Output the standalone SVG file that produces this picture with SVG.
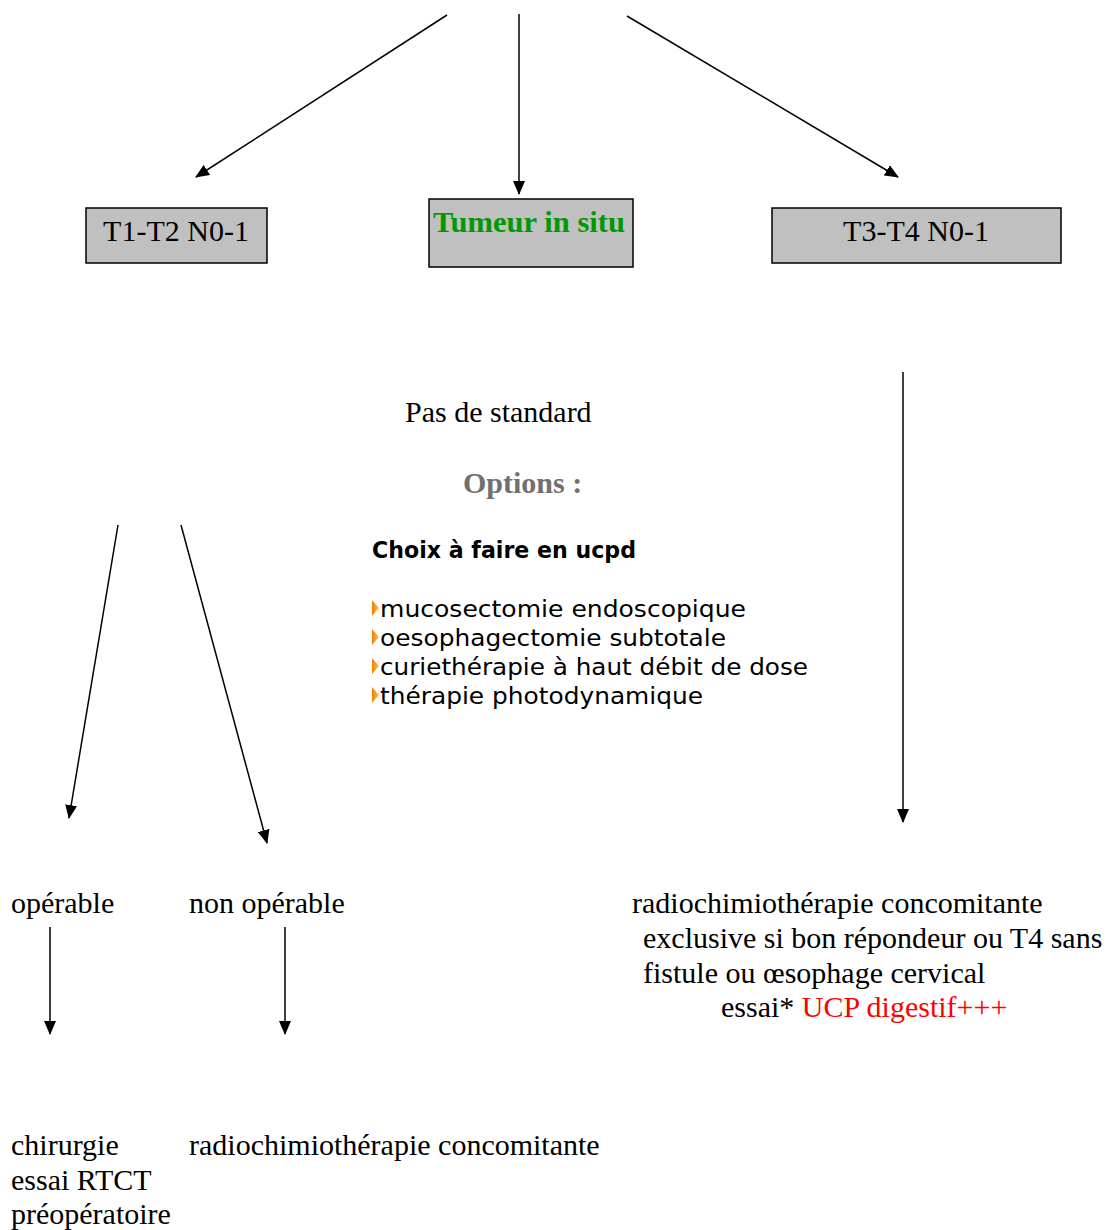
<svg xmlns="http://www.w3.org/2000/svg" width="1110" height="1230" viewBox="0 0 1110 1230">
<style>
.t{font-family:"Liberation Serif","Times New Roman",serif;font-size:30px;fill:#000}
.box{fill:#c0c0c0;stroke:#000;stroke-width:1.5}
.c{stroke:#000;stroke-width:1.5;fill:none;marker-end:url(#ah)}
.s{font-family:"DejaVu Sans",Verdana,sans-serif;font-size:23px;fill:#000}
.bul{fill:url(#og)}
</style>
<defs>
<marker id="ah" markerWidth="14" markerHeight="12" refX="13" refY="6" orient="auto" markerUnits="userSpaceOnUse">
<path d="M0,0 L14,6 L0,12 z" fill="#000"/>
</marker>
<linearGradient id="og" x1="0" y1="0" x2="1" y2="0">
<stop offset="0" stop-color="#f08000"/>
<stop offset="1" stop-color="#ffc060"/>
</linearGradient>
</defs>
<g id="connectors">
<line class="c" x1="447" y1="15" x2="196" y2="177"/>
<line class="c" x1="519" y1="14" x2="519" y2="194"/>
<line class="c" x1="627" y1="16" x2="898" y2="177"/>
<line class="c" x1="903" y1="372" x2="903" y2="822"/>
<line class="c" x1="118" y1="525" x2="69" y2="818"/>
<line class="c" x1="181" y1="525" x2="267" y2="843"/>
<line class="c" x1="50" y1="927" x2="50" y2="1034"/>
<line class="c" x1="285" y1="927" x2="285" y2="1034"/>
</g>
<g id="n-t1t2">
<rect class="box" x="86" y="208" width="181" height="55"/>
<text class="t" x="176" y="241" text-anchor="middle">T1-T2 N0-1</text>
</g>
<g id="n-insitu">
<rect class="box" x="429" y="199" width="204" height="68"/>
<text class="t" x="433" y="232" font-weight="bold" textLength="192" lengthAdjust="spacingAndGlyphs" style="fill:#009900">Tumeur in situ</text>
</g>
<g id="n-t3t4">
<rect class="box" x="772" y="208" width="289" height="55"/>
<text class="t" x="916" y="241" text-anchor="middle">T3-T4 N0-1</text>
</g>
<g id="n-options">
<text class="t" x="405" y="422">Pas de standard</text>
<text class="t" x="463" y="493" font-weight="bold" style="fill:#707070">Options :</text>
<text class="s" x="372" y="558" font-weight="bold" font-size="22" textLength="264" lengthAdjust="spacingAndGlyphs">Choix à faire en ucpd</text>
<polygon class="bul" points="372,600 379,608 372,616"/>
<text class="s" x="380" y="617" textLength="366" lengthAdjust="spacingAndGlyphs">mucosectomie endoscopique</text>
<polygon class="bul" points="372,629 379,637 372,645"/>
<text class="s" x="380" y="646" textLength="346" lengthAdjust="spacingAndGlyphs">oesophagectomie subtotale</text>
<polygon class="bul" points="372,658 379,666 372,674"/>
<text class="s" x="380" y="675" textLength="428" lengthAdjust="spacingAndGlyphs">curiethérapie à haut débit de dose</text>
<polygon class="bul" points="372,687 379,695 372,703"/>
<text class="s" x="380" y="704" textLength="323" lengthAdjust="spacingAndGlyphs">thérapie photodynamique</text>
</g>
<g id="n-operable">
<text class="t" x="11" y="913">opérable</text>
</g>
<g id="n-nonoperable">
<text class="t" x="189" y="913">non opérable</text>
</g>
<g id="n-rct-t3">
<text class="t" x="632" y="913">radiochimiothérapie concomitante</text>
<text class="t" x="643" y="948">exclusive si bon répondeur ou T4 sans</text>
<text class="t" x="643" y="983">fistule ou œsophage cervical</text>
<text class="t" x="721" y="1017">essai* <tspan style="fill:#ff0000">UCP digestif+++</tspan></text>
</g>
<g id="n-chirurgie">
<text class="t" x="11" y="1155">chirurgie</text>
<text class="t" x="11" y="1190">essai RTCT</text>
<text class="t" x="11" y="1224">préopératoire</text>
</g>
<g id="n-rct">
<text class="t" x="189" y="1155">radiochimiothérapie concomitante</text>
</g>
</svg>
